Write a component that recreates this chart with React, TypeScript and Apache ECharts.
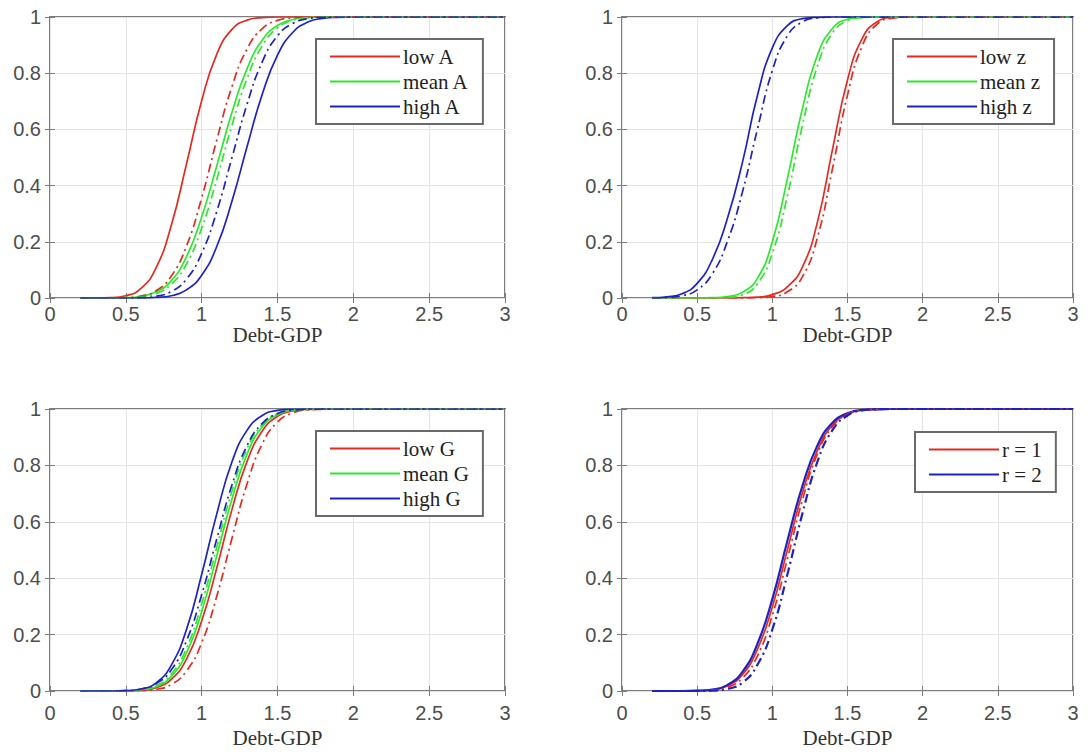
import React, { useEffect, useRef } from "react";
import * as echarts from "echarts";

// Shared x grid (Debt-GDP)
const xs = [0.2, 0.3, 0.4, 0.5, 0.6, 0.7, 0.8, 0.9, 1.0, 1.1, 1.2, 1.3, 1.4, 1.5, 1.6, 1.7, 1.8, 1.9, 2.0, 2.5, 3.0];

const xTicks = [0, 0.5, 1, 1.5, 2, 2.5, 3];
const yTicks = [0, 0.2, 0.4, 0.6, 0.8, 1];

// Panel 1: A
const lowA = [0, 0, 0.001, 0.008, 0.034, 0.108, 0.259, 0.477, 0.702, 0.868, 0.956, 0.989, 0.998, 1, 1, 1, 1, 1, 1, 1, 1];
const lowA2 = [0, 0, 0, 0.001, 0.007, 0.026, 0.078, 0.185, 0.356, 0.563, 0.753, 0.887, 0.959, 0.988, 0.997, 1, 1, 1, 1, 1, 1];
const meanA = [0, 0, 0, 0.001, 0.006, 0.022, 0.062, 0.147, 0.288, 0.471, 0.661, 0.817, 0.918, 0.97, 0.991, 0.998, 1, 1, 1, 1, 1];
const meanA2 = [0, 0, 0, 0.001, 0.004, 0.016, 0.049, 0.121, 0.248, 0.423, 0.615, 0.782, 0.898, 0.961, 0.988, 0.997, 1, 1, 1, 1, 1];
const highA = [0, 0, 0, 0, 0, 0.002, 0.008, 0.029, 0.081, 0.184, 0.345, 0.54, 0.726, 0.864, 0.945, 0.982, 0.995, 0.999, 1, 1, 1];
const highA2 = [0, 0, 0, 0, 0.001, 0.006, 0.023, 0.067, 0.159, 0.309, 0.5, 0.691, 0.841, 0.933, 0.977, 0.994, 0.999, 1, 1, 1, 1];

// Panel 2: z
const lowZ = [0, 0, 0, 0, 0, 0, 0.001, 0.003, 0.012, 0.04, 0.11, 0.27, 0.528, 0.776, 0.926, 0.984, 0.998, 1, 1, 1, 1];
const lowZ2 = [0, 0, 0, 0, 0, 0, 0, 0.001, 0.005, 0.022, 0.075, 0.215, 0.46, 0.722, 0.9, 0.976, 0.996, 1, 1, 1, 1];
const meanZ = [0, 0, 0, 0, 0.001, 0.005, 0.02, 0.069, 0.2, 0.424, 0.674, 0.864, 0.959, 0.992, 0.999, 1, 1, 1, 1, 1, 1];
const meanZ2 = [0, 0, 0, 0, 0, 0.002, 0.011, 0.05, 0.159, 0.363, 0.614, 0.825, 0.943, 0.987, 0.998, 1, 1, 1, 1, 1, 1];
const highZ = [0.001, 0.004, 0.015, 0.052, 0.136, 0.281, 0.48, 0.719, 0.89, 0.969, 0.994, 0.999, 1, 1, 1, 1, 1, 1, 1, 1, 1];
const highZ2 = [0, 0.002, 0.008, 0.029, 0.085, 0.2, 0.375, 0.599, 0.809, 0.933, 0.983, 0.997, 1, 1, 1, 1, 1, 1, 1, 1, 1];

// Panel 3: G
const lowG = [0, 0, 0, 0, 0.003, 0.012, 0.041, 0.113, 0.248, 0.437, 0.644, 0.815, 0.922, 0.974, 0.993, 0.999, 1, 1, 1, 1, 1];
const lowG2 = [0, 0, 0, 0, 0.001, 0.006, 0.023, 0.071, 0.171, 0.337, 0.542, 0.736, 0.877, 0.954, 0.986, 0.997, 0.999, 1, 1, 1, 1];
const meanG = [0, 0, 0, 0.001, 0.004, 0.015, 0.052, 0.135, 0.281, 0.48, 0.681, 0.841, 0.937, 0.98, 0.995, 0.999, 1, 1, 1, 1, 1];
const meanG2 = [0, 0, 0, 0.001, 0.005, 0.019, 0.06, 0.152, 0.309, 0.511, 0.709, 0.86, 0.945, 0.983, 0.996, 0.999, 1, 1, 1, 1, 1];
const highG = [0, 0, 0, 0.001, 0.007, 0.029, 0.092, 0.218, 0.413, 0.629, 0.813, 0.925, 0.977, 0.995, 0.999, 1, 1, 1, 1, 1, 1];
const highG2 = [0, 0, 0, 0.001, 0.007, 0.026, 0.075, 0.178, 0.341, 0.54, 0.731, 0.871, 0.949, 0.984, 0.996, 0.999, 1, 1, 1, 1, 1];

// Panel 4: r
const r1 = [0, 0, 0, 0.001, 0.004, 0.018, 0.057, 0.147, 0.298, 0.5, 0.702, 0.853, 0.943, 0.982, 0.996, 0.999, 1, 1, 1, 1, 1];
const r1b = [0, 0, 0, 0, 0.003, 0.013, 0.045, 0.123, 0.268, 0.468, 0.677, 0.841, 0.938, 0.981, 0.996, 0.999, 1, 1, 1, 1, 1];
const r2 = [0, 0, 0, 0.001, 0.005, 0.021, 0.067, 0.166, 0.326, 0.532, 0.727, 0.871, 0.951, 0.985, 0.997, 0.999, 1, 1, 1, 1, 1];
const r2b = [0, 0, 0, 0, 0.001, 0.007, 0.029, 0.092, 0.218, 0.413, 0.629, 0.813, 0.925, 0.977, 0.995, 0.999, 1, 1, 1, 1, 1];

const RED = "#e62a22";
const GREEN = "#2de82d";
const BLUE = "#1e22c4";

type Curve = { name: string; data: number[]; color: string; dash: boolean; width?: number };
type Panel = { curves: Curve[]; legend: string[] };

const panels: Panel[] = [
  {
    legend: ["low A", "mean A", "high A"],
    curves: [
      { name: "low A", data: lowA, color: RED, dash: false },
      { name: "low A (alt)", data: lowA2, color: RED, dash: true },
      { name: "mean A", data: meanA, color: GREEN, dash: false },
      { name: "mean A (alt)", data: meanA2, color: GREEN, dash: true },
      { name: "high A", data: highA, color: BLUE, dash: false },
      { name: "high A (alt)", data: highA2, color: BLUE, dash: true },
    ],
  },
  {
    legend: ["low z", "mean z", "high z"],
    curves: [
      { name: "low z", data: lowZ, color: RED, dash: false },
      { name: "low z (alt)", data: lowZ2, color: RED, dash: true },
      { name: "mean z", data: meanZ, color: GREEN, dash: false },
      { name: "mean z (alt)", data: meanZ2, color: GREEN, dash: true },
      { name: "high z", data: highZ, color: BLUE, dash: false },
      { name: "high z (alt)", data: highZ2, color: BLUE, dash: true },
    ],
  },
  {
    legend: ["low G", "mean G", "high G"],
    curves: [
      { name: "low G", data: lowG, color: RED, dash: false },
      { name: "low G (alt)", data: lowG2, color: RED, dash: true },
      { name: "mean G", data: meanG, color: GREEN, dash: false },
      { name: "mean G (alt)", data: meanG2, color: GREEN, dash: true },
      { name: "high G", data: highG, color: BLUE, dash: false },
      { name: "high G (alt)", data: highG2, color: BLUE, dash: true },
    ],
  },
  {
    legend: ["r = 1", "r = 2"],
    curves: [
      { name: "r = 1", data: r1, color: RED, dash: false },
      { name: "r = 1 (alt)", data: r1b, color: RED, dash: true },
      { name: "r = 2", data: r2, color: BLUE, dash: false, width: 2.2 },
      { name: "r = 2 (alt)", data: r2b, color: BLUE, dash: true, width: 2.2 },
    ],
  },
];

const grids = [
  { left: 50, top: 17, width: 455, height: 281 },
  { left: 622, top: 17, width: 451, height: 281 },
  { left: 50, top: 409, width: 455, height: 282 },
  { left: 622, top: 409, width: 451, height: 282 },
];

// per-panel spacing of tick labels and axis title below the frame
const labelMargin = [6, 6, 12, 12];
const titleGap = [16, 16, 36, 36];

const legendPos = [
  { left: 316, top: 39 },
  { left: 893, top: 39 },
  { left: 316, top: 431 },
  { left: 915, top: 432 },
];

export default function App() {
  const ref = useRef<HTMLDivElement>(null);
  useEffect(() => {
    document.body.style.margin = "0";
    if (!ref.current) return;
    const chart = echarts.init(ref.current, null, { renderer: "svg" });
    const frame = "#7d7d7d";
    const xAxis: any[] = [];
    const yAxis: any[] = [];
    const series: any[] = [];
    grids.forEach((g, i) => {
      xAxis.push({
        type: "value",
        gridIndex: i,
        min: xTicks[0],
        max: xTicks[xTicks.length - 1],
        interval: 0.5,
        position: "bottom",
        name: "Debt-GDP",
        nameLocation: "middle",
        nameGap: titleGap[i],
        nameTextStyle: { fontFamily: "Liberation Serif", fontSize: 21, color: "#333" },
        axisLine: { show: false },
        axisTick: { inside: true, length: 5, lineStyle: { color: frame } },
        axisLabel: { fontFamily: "Liberation Sans", fontSize: 20, color: "#4d4d4d", margin: labelMargin[i], showMinLabel: true, showMaxLabel: true },
        splitLine: { show: true, lineStyle: { color: "#e4e4e4", width: 1 } },
      });
      xAxis.push({
        type: "value",
        gridIndex: i,
        min: xTicks[0],
        max: xTicks[xTicks.length - 1],
        interval: 0.5,
        position: "top",
        axisLine: { show: false },
        axisTick: { inside: true, length: 5, lineStyle: { color: frame } },
        axisLabel: { show: false },
        splitLine: { show: false },
      });
      yAxis.push({
        type: "value",
        gridIndex: i,
        min: yTicks[0],
        max: yTicks[yTicks.length - 1],
        interval: 0.2,
        position: "left",
        axisLine: { show: false },
        axisTick: { inside: true, length: 5, lineStyle: { color: frame } },
        axisLabel: { fontFamily: "Liberation Sans", fontSize: 20, color: "#4d4d4d", margin: 9 },
        splitLine: { show: true, lineStyle: { color: "#e4e4e4", width: 1 } },
      });
      yAxis.push({
        type: "value",
        gridIndex: i,
        min: yTicks[0],
        max: yTicks[yTicks.length - 1],
        interval: 0.2,
        position: "right",
        axisLine: { show: false },
        axisTick: { inside: true, length: 5, lineStyle: { color: frame } },
        axisLabel: { show: false },
        splitLine: { show: false },
      });
      panels[i].curves.forEach((c) => {
        series.push({
          type: "line",
          name: c.name,
          xAxisIndex: 2 * i,
          yAxisIndex: 2 * i,
          data: xs.map((x, k) => [x, c.data[k]]),
          symbol: "none",
          smooth: 0.5,
          color: c.color,
          lineStyle: {
            color: c.color,
            width: c.width ?? 1.7,
            type: c.dash ? [9, 4, 2, 4] : "solid",
          },
          z: c.dash ? 3 : 2,
        });
      });
    });

    const legend = panels.map((p, i) => ({
      left: legendPos[i].left,
      top: legendPos[i].top,
      orient: "vertical",
      data: p.legend,
      icon: "rect",
      itemWidth: 70,
      itemHeight: 2,
      itemGap: 4,
      padding: [7, 14, 7, 14],
      backgroundColor: "#fff",
      borderColor: "#6a6a6a",
      borderWidth: 2,
      borderRadius: 0,
      selectedMode: false,
      textStyle: { fontFamily: "Liberation Serif", fontSize: 21, color: "#222", padding: [0, 0, 0, -2] },
    }));

    chart.setOption({
      animation: false,
      backgroundColor: "#fff",
      grid: grids.map((g) => ({ ...g, show: true, borderColor: frame, borderWidth: 2, backgroundColor: "transparent" })),
      xAxis,
      yAxis,
      legend,
      series,
    });
    return () => chart.dispose();
  }, []);
  return <div ref={ref} style={{ width: 1088, height: 754 }} />;
}
